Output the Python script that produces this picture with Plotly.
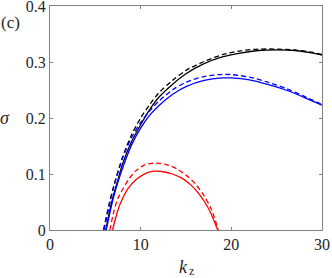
import plotly.graph_objects as go

# Black curves
kz_black_solid = [6.15, 6.5, 7, 7.5, 8, 9, 10, 11, 12, 13.5, 15, 17, 19, 21, 23, 25, 27, 29, 30]
sig_black_solid = [0, 0.028, 0.062, 0.09, 0.118, 0.158, 0.188, 0.215, 0.237, 0.26, 0.279, 0.297, 0.309, 0.316, 0.3205, 0.3215, 0.3205, 0.316, 0.3125]
kz_black_dash = [5.9, 6.5, 7, 8, 9, 10, 11, 12, 13.5, 15, 17, 19, 21, 23, 25, 27, 29, 30]
sig_black_dash = [0, 0.045, 0.077, 0.13, 0.17, 0.2, 0.224, 0.245, 0.267, 0.285, 0.301, 0.313, 0.32, 0.323, 0.323, 0.3215, 0.317, 0.3135]

# Blue curves
kz_blue_solid = [6.2, 7, 8, 9, 10, 11, 12, 13.5, 15, 17, 19, 20, 22, 24, 26, 28, 30]
sig_blue_solid = [0, 0.058, 0.11, 0.152, 0.182, 0.205, 0.222, 0.242, 0.256, 0.267, 0.2715, 0.2715, 0.268, 0.26, 0.25, 0.237, 0.223]
kz_blue_dash = [5.95, 6.5, 7, 8, 9, 10, 11, 12, 13.5, 15, 17, 19, 20, 22, 24, 26, 28, 30]
sig_blue_dash = [0, 0.04, 0.075, 0.128, 0.165, 0.192, 0.213, 0.23, 0.25, 0.264, 0.274, 0.278, 0.2775, 0.273, 0.264, 0.253, 0.239, 0.224]

# Red curves
kz_red_solid = [6.9, 7.3, 7.7, 8.6, 9.5, 10.3, 11, 11.8, 12.5, 13.5, 14.5, 15.5, 16.5, 17.5, 18.5]
sig_red_solid = [0, 0.025, 0.045, 0.074, 0.09, 0.099, 0.104, 0.105, 0.104, 0.1, 0.093, 0.081, 0.063, 0.038, 0]
kz_red_dash = [6.6, 7.0, 7.5, 8.75, 9.5, 10.3, 11.2, 12, 13, 14, 15, 16, 17, 17.8, 18.55]
sig_red_dash = [0, 0.03, 0.057, 0.092, 0.106, 0.115, 0.119, 0.119, 0.116, 0.109, 0.098, 0.083, 0.061, 0.037, 0]

x_ticks = [0, 10, 20, 30]
y_ticks = [0, 0.1, 0.2, 0.3, 0.4]
y_tick_text = ["0", "0.1", "0.2", "0.3", "0.4"]

series = [
    (kz_black_solid, sig_black_solid, "black", "solid"),
    (kz_black_dash, sig_black_dash, "black", "5px,3px"),
    (kz_blue_solid, sig_blue_solid, "#0000ff", "solid"),
    (kz_blue_dash, sig_blue_dash, "#0000ff", "5px,3px"),
    (kz_red_solid, sig_red_solid, "#ff0000", "solid"),
    (kz_red_dash, sig_red_dash, "#ff0000", "5px,3px"),
]

fig = go.Figure()
for xs, ys, c, d in series:
    fig.add_trace(go.Scatter(x=xs, y=ys, mode="lines",
                             line=dict(color=c, width=1.3, dash=d, shape="spline", smoothing=0.8),
                             showlegend=False, hoverinfo="skip"))

FAM = "Liberation Serif"
TXT = "#262626"
font = dict(family=FAM, size=16, color=TXT)
axis_common = dict(showgrid=False, zeroline=False, showline=True, linecolor="#808080",
                   linewidth=1, mirror="ticks", ticks="inside", ticklen=3,
                   tickcolor="#808080", tickfont=font, ticklabeloverflow="allow",
                   automargin=False)
fig.update_layout(
    width=332, height=278,
    margin=dict(l=50, r=10, t=6, b=48, autoexpand=False),
    plot_bgcolor="white", paper_bgcolor="white",
    font=dict(family=FAM),
    xaxis=dict(range=[0, 30], tickvals=x_ticks, **axis_common),
    yaxis=dict(range=[0, 0.4], tickvals=y_ticks, ticktext=y_tick_text, **axis_common),
    annotations=[
        dict(text="(c)", x=0, y=1.0, xref="paper", yref="paper", xanchor="left", yanchor="middle",
             xshift=-51, yshift=-16, showarrow=False, font=dict(family=FAM, size=17, color=TXT)),
        dict(text="<i>σ</i>", x=0, y=0.5, xref="paper", yref="paper", xanchor="center", yanchor="middle",
             xshift=-45, showarrow=False, font=dict(family=FAM, size=18, color=TXT)),
        dict(text="<i>k</i>", x=0.5, y=0, xref="paper", yref="paper", xanchor="center", yanchor="middle",
             xshift=-3, yshift=-37, showarrow=False, font=dict(family=FAM, size=18, color=TXT)),
        dict(text="z", x=0.5, y=0, xref="paper", yref="paper", xanchor="center", yanchor="middle",
             xshift=5, yshift=-41, showarrow=False, font=dict(family=FAM, size=12, color=TXT)),
    ],
)
fig.write_html("out.html", config={"displayModeBar": False},
               post_script="document.body.style.margin='0';")
